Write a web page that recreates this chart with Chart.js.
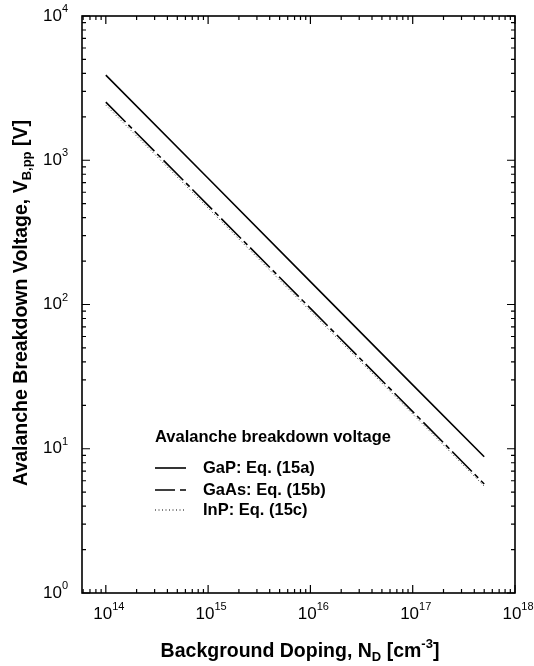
<!DOCTYPE html>
<html>
<head>
<meta charset="utf-8">
<script src="https://cdn.jsdelivr.net/npm/chart.js@4.4.0/dist/chart.umd.min.js"></script>
<style>
    html, body { margin: 0; padding: 0; background: #ffffff; }
    #wrap { width: 534px; height: 666px; position: relative; }
</style>
</head>
<body>
<div id="wrap"><canvas id="chartVb"></canvas></div>
<script>
// background doping N_D [cm^-3]
const dopingLevels = [1e14, 1e15, 1e16, 1e17, 5e17];
// avalanche breakdown voltage [V]
const vbGaP = [3890, 750, 144, 27.7, 8.8];
const vbGaAs = [2530, 487, 94, 18.1, 5.7];
const vbInP = [2410, 466, 90, 17.4, 5.5];

const xDecades = [14, 15, 16, 17, 18];
const yDecades = [0, 1, 2, 3, 4];
const legendTitle = 'Avalanche breakdown voltage';
const seriesNames = ['GaP: Eq. (15a)', 'GaAs: Eq. (15b)', 'InP: Eq. (15c)'];
const seriesDash = [[], [28, 4, 5, 4], [1, 2.5]];

const FONT = '"Liberation Sans", Arial, Helvetica, sans-serif';

function toPoints(xs, ys) {
    return xs.map((x, i) => ({ x: x, y: ys[i] }));
}

function drawPower(ctx, exp, x, y, align) {
    // "10" with a raised exponent; y is the vertical middle of the "10"
    ctx.font = '17px ' + FONT;
    const wBase = ctx.measureText('10').width;
    ctx.font = '11px ' + FONT;
    const wExp = ctx.measureText(String(exp)).width;
    const total = wBase + wExp;
    let left = align === 'right' ? x - total : x - total / 2;
    ctx.textAlign = 'left';
    ctx.textBaseline = 'middle';
    ctx.font = '17px ' + FONT;
    ctx.fillText('10', left, y);
    ctx.font = '11px ' + FONT;
    ctx.fillText(String(exp), left + wBase, y - 7);
}

// draws rich text pieces: [text, size, dy]
function drawRich(ctx, pieces, x, y, align) {
    let total = 0;
    for (const p of pieces) {
        ctx.font = 'bold ' + p[1] + 'px ' + FONT;
        total += ctx.measureText(p[0]).width;
    }
    let cx = align === 'center' ? x - total / 2 : x;
    ctx.textAlign = 'left';
    ctx.textBaseline = 'alphabetic';
    for (const p of pieces) {
        ctx.font = 'bold ' + p[1] + 'px ' + FONT;
        ctx.fillText(p[0], cx, y + p[2]);
        cx += ctx.measureText(p[0]).width;
    }
}

const framePlugin = {
    id: 'framePlugin',
    afterDraw(chart) {
        const ctx = chart.ctx;
        const a = chart.chartArea;
        const xs = chart.scales.x;
        const ys = chart.scales.y;
        ctx.save();
        ctx.strokeStyle = '#000';
        ctx.fillStyle = '#000';

        // frame
        ctx.lineWidth = 1.6;
        ctx.strokeRect(a.left, a.top, a.right - a.left, a.bottom - a.top);

        // inward ticks on all four sides
        ctx.lineWidth = 1.2;
        ctx.beginPath();
        for (let d = 13; d <= 18; d++) {
            for (let m = 1; m <= 9; m++) {
                const v = m * Math.pow(10, d);
                if (v < xs.min || v > xs.max) continue;
                const px = xs.getPixelForValue(v);
                const len = m === 1 ? 8 : 4;
                ctx.moveTo(px, a.bottom); ctx.lineTo(px, a.bottom - len);
                ctx.moveTo(px, a.top); ctx.lineTo(px, a.top + len);
            }
        }
        for (let d = 0; d <= 4; d++) {
            for (let m = 1; m <= 9; m++) {
                const v = m * Math.pow(10, d);
                if (v < ys.min || v > ys.max) continue;
                const py = ys.getPixelForValue(v);
                const len = m === 1 ? 8 : 4;
                ctx.moveTo(a.left, py); ctx.lineTo(a.left + len, py);
                ctx.moveTo(a.right, py); ctx.lineTo(a.right - len, py);
            }
        }
        ctx.stroke();

        // tick labels
        for (const d of xDecades) {
            drawPower(ctx, d, xs.getPixelForValue(Math.pow(10, d)) + 3, a.bottom + 21, 'center');
        }
        for (const d of yDecades) {
            drawPower(ctx, d, 68, ys.getPixelForValue(Math.pow(10, d)), 'right');
        }

        // axis titles
        drawRich(ctx, [
            ['Background Doping, N', 19.5, 0],
            ['D', 13, 4],
            [' [cm', 19.5, 0],
            ['-3', 13, -9],
            [']', 19.5, 0]
        ], 300, 657, 'center');

        ctx.save();
        ctx.translate(27, 303);
        ctx.rotate(-Math.PI / 2);
        drawRich(ctx, [
            ['Avalanche Breakdown Voltage, V', 19.5, 0],
            ['B,pp', 13, 4],
            [' [V]', 19.5, 0]
        ], 0, 0, 'center');
        ctx.restore();

        // legend inside plot
        ctx.textAlign = 'left';
        ctx.textBaseline = 'middle';
        ctx.font = 'bold 16.5px ' + FONT;
        ctx.fillText(legendTitle, 155, 437);
        const rowY = [468, 490, 510];
        seriesNames.forEach((name, i) => {
            ctx.beginPath();
            ctx.setLineDash(i === 1 ? [20, 5, 6, 40] : seriesDash[i]);
            ctx.lineWidth = i === 2 ? 1 : 1.6;
            ctx.moveTo(155, rowY[i]);
            ctx.lineTo(186, rowY[i]);
            ctx.stroke();
            ctx.setLineDash([]);
            ctx.fillText(name, 203, rowY[i]);
        });
        ctx.restore();
    }
};

const canvas = document.getElementById('chartVb');
new Chart(canvas, {
    type: 'scatter',
    data: {
        datasets: [
            {
                label: seriesNames[0],
                data: toPoints(dopingLevels, vbGaP),
                showLine: true,
                borderColor: '#000',
                borderWidth: 1.6,
                borderDash: seriesDash[0],
                pointRadius: 0
            },
            {
                label: seriesNames[1],
                data: toPoints(dopingLevels, vbGaAs),
                showLine: true,
                borderColor: '#000',
                borderWidth: 1.6,
                borderDash: seriesDash[1],
                pointRadius: 0
            },
            {
                label: seriesNames[2],
                data: toPoints(dopingLevels, vbInP),
                showLine: true,
                borderColor: '#333',
                borderWidth: 1,
                borderDash: seriesDash[2],
                pointRadius: 0
            }
        ]
    },
    options: {
        responsive: true,
        maintainAspectRatio: false,
        animation: false,
        layout: {
            padding: { left: 82, top: 16, right: 19, bottom: 73 }
        },
        plugins: {
            legend: { display: false },
            tooltip: { enabled: false }
        },
        scales: {
            x: {
                type: 'logarithmic',
                display: false,
                min: 5.85e13,
                max: 1e18
            },
            y: {
                type: 'logarithmic',
                display: false,
                min: 1,
                max: 1e4
            }
        }
    },
    plugins: [framePlugin]
});
</script>
</body>
</html>
